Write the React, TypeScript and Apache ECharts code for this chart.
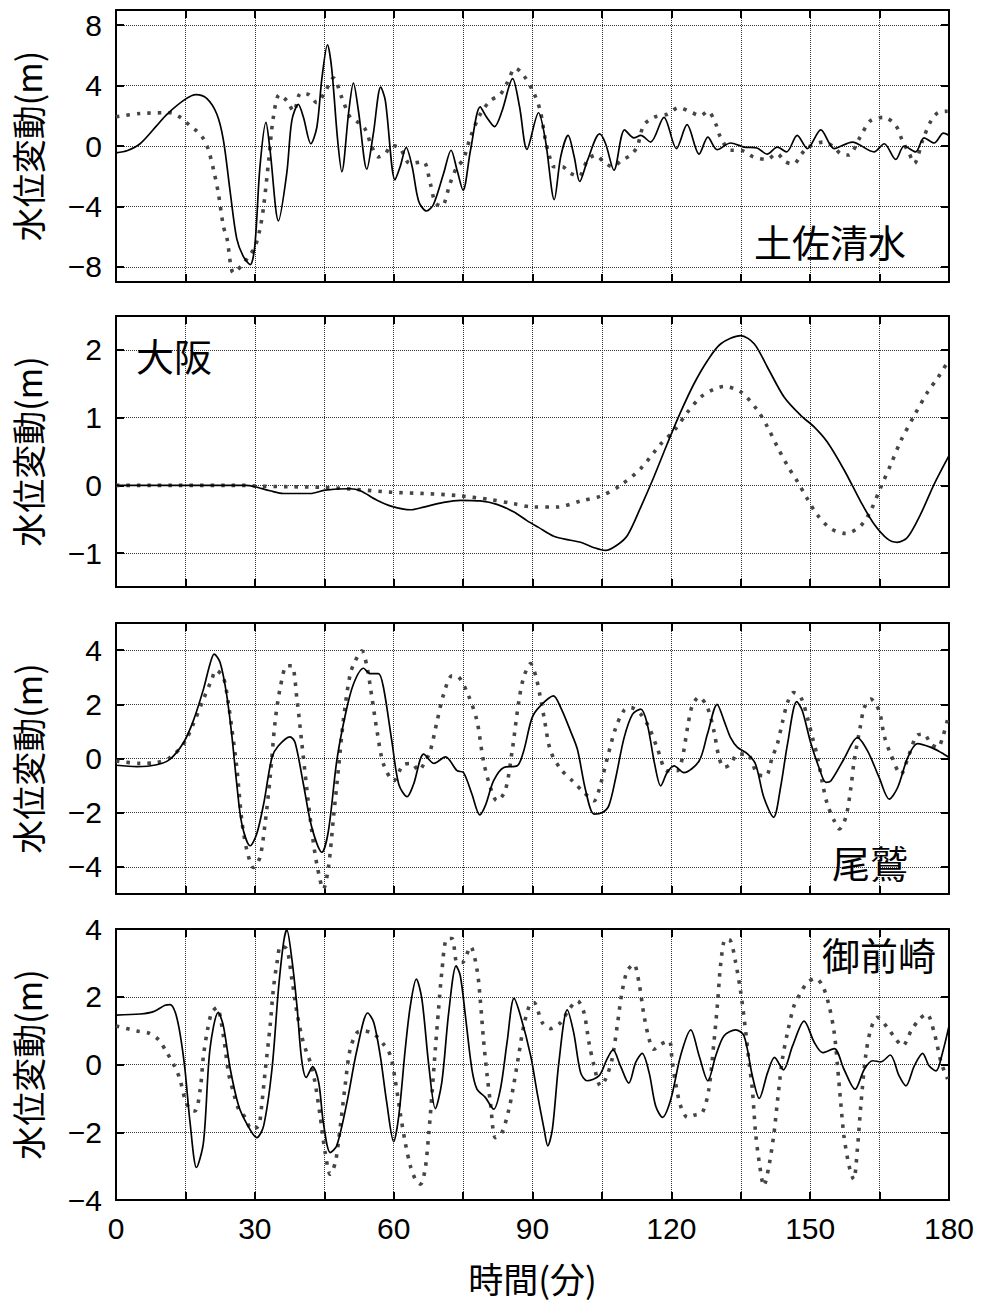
import React, { useEffect, useRef } from 'react';
import * as echarts from 'echarts';

// ---------- texts ----------
const stationNames = ['土佐清水', '大阪', '尾鷲', '御前崎'];
const yTitle = '水位変動(m)';
const xTitle = '時間(分)';

// ---------- axes ----------
const xTickLabels = [0, 30, 60, 90, 120, 150, 180];
const yRange1 = [-9, 9];
const yRange2 = [-1.5, 2.5];
const yRange3 = [-5, 5];
const yRange4 = [-4, 4];
const yTicks1 = [-8, -4, 0, 4, 8];
const yTicks2 = [-1, 0, 1, 2];
const yTicks3 = [-4, -2, 0, 2, 4];
const yTicks4 = [-4, -2, 0, 2, 4];

// ---------- data: [minutes, metres] ----------
const tosaSolid = [
  [0, -0.46], [2.5, -0.3], [5.2, 0.15], [8.8, 1.35], [11, 2.1], [15, 3.1], [17.3, 3.4], [19.6, 3.15],
  [21.8, 2.1], [23.2, 0.4], [24.7, -3.1], [26.1, -6.15], [27.5, -7.3], [29, -7.85], [30, -6.6],
  [31.1, -1.4], [32.4, 1.56], [33.3, -0.3], [35.1, -4.95], [36.9, -1.8], [38, 1.7], [39.4, 2.76],
  [40.5, 1.9], [42.1, 0.15], [43.4, 1.24], [44.5, 4.5], [45.7, 6.7], [46.6, 5.15], [47.9, 0.37],
  [48.8, -1.7], [50.3, 2.3], [51.3, 4.17], [52.4, 2.3], [54.2, -1.54], [55.6, 0.8], [57.2, 3.9],
  [58.2, 3.0], [60.3, -2.24], [61.4, -1.37], [62.7, -0.1], [64, -1.37], [65.4, -3.65], [67.1, -4.3],
  [68.6, -3.87], [70.8, -1.8], [72.4, -0.28], [73.7, -1.59], [75, -2.93], [76.6, -0.28], [78.7, 2.59],
  [80.1, 1.9], [81.8, 1.28], [83.4, 2.3], [85.7, 4.46], [87.2, 2.6], [88.8, -0.22], [91.3, 2.2],
  [92.8, 0.37], [94.7, -3.55], [96.1, -0.7], [97.7, 0.7], [99, -0.7], [100.2, -2.35], [101.9, -0.93],
  [104.5, 0.8], [105.8, 0.15], [107.6, -1.6], [109.9, 1.07], [111.9, 0.54], [113.4, 0.7], [115.5, 0.26],
  [118.4, 1.9], [121.1, -0.17], [123.4, 1.41], [126, -0.54], [127.9, 0.59], [129.9, -0.24], [132.8, 0.2],
  [135.7, -0.07], [138.5, -0.13], [140.7, -0.54], [142.9, -0.07], [144.9, -0.39], [147.2, 0.7],
  [149.4, -0.17], [152.3, 1.07], [155.2, -0.17], [159.1, 0.26], [163.8, -0.39], [166, 0.15], [168.5, -0.89],
  [170.3, 0], [172.8, -0.39], [174.6, 0.54], [176.8, 0.2], [178.8, 0.85], [180, 0.7],
];
const tosaDotted = [
  [0, 1.93], [5.2, 2.15], [11.7, 2.2], [13.9, 1.9], [16, 1.35], [17.4, 1.0], [18.9, 0.48], [20, -0.28],
  [21.1, -1.6], [22.1, -3.1], [23.2, -5.3], [24, -6.15], [25.4, -8.4], [27.2, -7.9], [28.6, -7.35],
  [30, -6.7], [31.1, -5.5], [31.9, -4.0], [33, -0.93], [34, 1.9], [35.3, 3.4], [36.9, 3.0], [38.4, 2.3],
  [39.9, 3.5], [41.6, 3.4], [43.4, 2.87], [45.2, 3.6], [47, 4.5], [48.8, 3.2], [50.6, 1.9], [52, 1.63],
  [53.8, 1.13], [55.3, -0.07], [56.7, -0.72], [58.2, -0.5], [59.6, 0.04], [61.4, -0.17], [63.5, -1.15],
  [66.4, -1.04], [67.9, -2.46], [69, -3.76], [70.4, -3.98], [72.2, -2.46], [73.7, -1.37], [75, -0.93],
  [76.6, 0.59], [78.7, 2.1], [80.9, 3.0], [83, 3.4], [84.5, 4.17], [86.3, 5.15], [88.1, 4.67], [90.3, 3.5],
  [91.7, 2.3], [92.8, 0.37], [93.7, -0.72], [94.6, -1.37], [96.4, -1.37], [98.2, -1.8], [100, -2.0],
  [101.9, -0.93], [103.6, -0.6], [105.4, -1.04], [107.2, -1.37], [109.4, -0.93], [111.2, -0.6],
  [112.6, -0.07], [114, 1.35], [116.2, 1.9], [119.1, 2.1], [121.6, 2.54], [124.5, 2.2], [126.3, 2.0],
  [127.9, 2.3], [129.6, 1.46], [130.6, 0.59], [132.8, -0.28], [134.9, -0.28], [137.7, -0.72],
  [140.6, -0.89], [142.8, -0.5], [144.6, -1.04], [146.4, -1.2], [148.2, -0.5], [149.6, -0.07],
  [152.9, 0.26], [155.2, -0.07], [156.5, -0.5], [158.3, -0.6], [160.8, 0.59], [163, 1.67], [165.9, 1.9],
  [168.5, 1.35], [169.9, 0.37], [171.4, -0.5], [172.5, -1.15], [174.3, 0.37], [176.1, 1.67], [177.6, 2.2],
  [179.7, 2.3],
];

const osakaSolid = [
  [0, 0], [10, 0], [20, 0], [28, 0], [30, -0.02], [33.3, -0.08], [36.2, -0.12], [42, -0.12], [45.2, -0.07],
  [50.6, -0.05], [52.8, -0.08], [56.4, -0.22], [59.6, -0.31], [63.6, -0.36], [66.5, -0.32], [70.8, -0.25],
  [74.4, -0.22], [78.7, -0.23], [82.3, -0.28], [85.9, -0.39], [88.8, -0.52], [91.3, -0.62], [94.6, -0.75],
  [98.2, -0.81], [100.4, -0.84], [103.3, -0.92], [105.8, -0.96], [108.3, -0.88], [110.5, -0.74],
  [113.4, -0.32], [116.2, 0.12], [119.1, 0.61], [122, 1.08], [124.9, 1.5], [127.8, 1.84], [130.7, 2.09],
  [135, 2.21], [137.9, 2.09], [140.8, 1.74], [144.4, 1.3], [148, 1.03], [150.9, 0.86], [153.7, 0.64],
  [157.4, 0.22], [161, -0.25], [163.8, -0.57], [166.7, -0.79], [168.8, -0.84], [171, -0.77], [173.9, -0.42],
  [176.8, 0.02], [180, 0.44],
];
const osakaDotted = [
  [0, 0], [28, 0], [30.4, -0.01], [37.6, -0.02], [44.8, -0.03], [52, -0.06], [59.3, -0.1], [66.5, -0.12],
  [73.7, -0.15], [80.9, -0.21], [85.9, -0.27], [90.3, -0.32], [95.3, -0.32], [100.4, -0.23], [104.7, -0.16],
  [109, 0], [113.4, 0.25], [117.7, 0.61], [120.6, 0.81], [123.5, 1.08], [126.3, 1.3], [129.2, 1.42],
  [131.4, 1.46], [135, 1.38], [138.6, 1.11], [140.8, 0.86], [142.9, 0.57], [145.1, 0.29], [147.3, 0.05],
  [149.4, -0.2], [151.6, -0.44], [154.5, -0.64], [157.7, -0.71], [161, -0.59], [163.1, -0.37],
  [165.3, -0.02], [167.5, 0.32], [169.6, 0.66], [172.5, 1.03], [175.4, 1.38], [177.6, 1.59], [179.7, 1.82],
];

const owaseSolid = [
  [0, -0.25], [4.5, -0.3], [8.8, -0.23], [11.7, -0.02], [14.6, 0.59], [16.7, 1.39], [18.9, 2.56],
  [20.3, 3.48], [21.2, 3.85], [22.5, 3.54], [23.9, 2.37], [25, 0.9], [26.1, -0.95], [27.2, -2.42],
  [29, -3.22], [30.4, -2.79], [31.9, -1.68], [33.7, 0.04], [35.1, 0.47], [37.6, 0.8], [38.7, 0.59],
  [40.5, -0.95], [42.3, -2.54], [44.5, -3.46], [45.9, -2.67], [47.7, -0.09], [49.5, 1.57], [51.3, 2.74],
  [53.5, 3.33], [54.9, 3.13], [56.7, 3.13], [57.8, 2.62], [59.6, 0.65], [61.1, -0.95], [62.9, -1.41],
  [64.3, -0.95], [66.5, 0.16], [68.7, -0.18], [71.2, 0.06], [73.7, -0.45], [75.1, -0.52], [76.9, -1.31],
  [78.6, -2.08], [79.8, -1.74], [81.6, -0.82], [83.8, -0.33], [86.7, -0.27], [88.1, 0.28], [89.9, 1.5],
  [91.7, 1.94], [94.5, 2.31], [96.1, 1.88], [98.2, 1.02], [99.7, 0.34], [101.5, -1.19], [103.3, -2.05],
  [105.1, -1.99], [106.5, -1.74], [108, -0.7], [109.8, 0.77], [111.6, 1.63], [113.4, 1.82], [114.8, 1.27],
  [116.4, -0.21], [117.7, -1.01], [119.1, -0.52], [120.6, -0.27], [122.7, -0.52], [126, -0.09],
  [127.8, 0.9], [129.9, 2.0], [131.4, 1.39], [132.8, 0.77], [134.3, 0.41], [136.4, 0.18], [138.2, -0.21],
  [140, -1.44], [142.1, -2.17], [143.6, -1.07], [145.1, 0.53], [147.1, 2.1], [148.3, 1.76], [150.1, 0.59],
  [151.9, -0.33], [153.4, -0.88], [154.5, -0.82], [157.3, -0.02], [160.2, 0.77], [162.4, 0.28],
  [164.9, -0.7], [167.1, -1.5], [168.9, -1.07], [171.1, 0.04], [173.2, 0.55], [176.1, 0.41], [178.3, 0.22],
  [180, 0.04],
];
const owaseDotted = [
  [0, -0.09], [5.2, -0.18], [8.8, -0.15], [11.7, 0.04], [14.6, 0.53], [16.7, 1.27], [18.9, 2.19],
  [20.7, 2.92], [21.6, 3.26], [23.2, 2.99], [24.3, 2.0], [25, 1.14], [26.1, -0.33], [27.2, -2.3],
  [28.3, -3.4], [29.7, -4.02], [31.1, -3.65], [32.2, -2.42], [33.3, -0.7], [34.4, 1.39], [35.5, 2.62],
  [36.9, 3.42], [38, 3.42], [39.1, 2.19], [40.1, 0.65], [41.2, -1.07], [42.3, -2.67], [43.4, -3.9],
  [44.8, -4.82], [45.9, -4.02], [47, -2.17], [48.1, -0.33], [49.2, 1.51], [50.6, 3.11], [51.7, 3.6],
  [53.1, 3.97], [54.2, 3.42], [55.3, 2.25], [56.4, 1.02], [57.8, -0.21], [60, -0.82], [62.1, -0.23],
  [63.9, -0.18], [65.4, -0.45], [66.5, -0.21], [67.9, 0.28], [69.4, 1.39], [70.8, 2.37], [72.6, 3.05],
  [74, 3.01], [76.2, 2.31], [78, 1.39], [79.4, -0.09], [80.9, -1.07], [82.3, -1.56], [84.1, -1.19],
  [85.6, 0.28], [87, 2.06], [88.1, 3.0], [89.6, 3.5], [90.7, 3.05], [91.7, 2.25], [92.5, 1.51], [93.9, 0.28],
  [96.1, -0.39], [98.6, -0.82], [101.1, -1.25], [103.3, -1.56], [104.7, -0.95], [106.2, 0.04], [108, 1.14],
  [109.8, 1.78], [111.2, 1.88], [113.4, 1.63], [115.2, 1.14], [116.9, 0.41], [119.1, -0.45], [121.3, -0.45],
  [122.4, 0.04], [123.5, 1.14], [124.5, 1.94], [126, 2.27], [127.8, 1.88], [129.2, 1.02], [130.3, 0.04],
  [131.4, -0.33], [132.8, -0.21], [134.3, 0.16], [136.4, 0.16], [138.6, -0.58], [140.4, -0.64],
  [141.8, 0.04], [142.9, 0.53], [144, 1.33], [145.1, 2.06], [146.4, 2.43], [148, 2.25], [149.4, 1.51],
  [150.5, 0.77], [151.6, 0.04], [152.7, -0.95], [153.7, -1.68], [155.2, -2.3], [156.3, -2.6],
  [157.7, -2.17], [158.8, -1.07], [159.5, -0.09], [160.8, 1.14], [161.7, 1.88], [163.1, 2.19],
  [164.9, 1.76], [166, 0.84], [167.4, 0.16], [169.6, -0.58], [171.4, 0.16], [173.2, 0.87], [174.6, 0.9],
  [176.1, 0.53], [177.6, 0.41], [178.6, 0.77], [179.7, 1.45],
];

const omaezakiSolid = [
  [0, 1.46], [5.2, 1.49], [8.1, 1.56], [10.6, 1.75], [11.7, 1.77], [12.8, 1.54], [13.8, 0.94],
  [14.9, -0.14], [16, -1.71], [17.4, -3.04], [18.9, -2.3], [20.3, 0.45], [22.1, 1.54], [23.2, 1.14],
  [24.7, -0.14], [26.5, -1.22], [28.3, -1.76], [30.4, -2.16], [31.9, -1.81], [33.7, -0.14], [35.1, 2.22],
  [36.2, 3.6], [36.9, 3.98], [38, 3.11], [39.1, 1.73], [40.1, 0.16], [41.1, -0.38], [42.5, -0.06],
  [43.8, -0.53], [44.8, -1.71], [46.3, -2.6], [47.7, -2.4], [49.9, -1.12], [52.1, 0.45], [54.4, 1.52],
  [55.7, 1.24], [57.1, 0.26], [58.5, -1.12], [60, -2.28], [61.1, -1.52], [62.5, 0.45], [63.6, 1.73],
  [64.9, 2.52], [66.1, 1.93], [67.6, -0.04], [69, -1.3], [70.4, -0.53], [71.9, 1.54], [73.5, 2.91],
  [74.4, 2.62], [75.5, 1.44], [76.9, -0.14], [78, -0.73], [79.8, -0.97], [81.6, -1.32], [83.1, -0.7],
  [84.5, 0.65], [86, 1.95], [87.4, 1.44], [89.6, 0.26], [91, -0.83], [92.5, -1.91], [93.3, -2.4],
  [94.3, -1.91], [95.7, 0.06], [97.5, 1.61], [98.9, 0.94], [100.4, -0.24], [101.8, -0.48], [104.4, -0.33],
  [106.1, 0.16], [107.4, 0.43], [109, -0.04], [110.8, -0.55], [112.3, 0.06], [113.7, 0.33], [115.2, -0.24],
  [116.6, -1.22], [118.1, -1.56], [119.9, -1.02], [122, 0.26], [124.2, 1.02], [126, 0.26], [127.9, -0.48],
  [129.6, 0.26], [131.4, 0.85], [133.9, 1.02], [135.7, 0.85], [137.5, -0.33], [139, -1.0], [140.8, -0.24],
  [142.3, 0.21], [144.2, -0.16], [146.2, 0.55], [148.7, 1.28], [150.9, 0.65], [152.7, 0.35], [155.2, 0.47],
  [157.3, -0.14], [159.7, -0.73], [161.7, -0.14], [163.5, 0.11], [165.3, 0.08], [167.3, 0.28],
  [169.2, -0.33], [170.7, -0.63], [172.5, -0.04], [174.3, 0.33], [175.7, -0.04], [177.2, -0.19],
  [178.6, 0.35], [180, 1.14],
];
const omaezakiDotted = [
  [0, 1.14], [4.5, 0.99], [7, 0.93], [9.2, 0.73], [11, 0.35], [12.8, -0.09], [13.8, -0.43], [14.9, -1.02],
  [16, -1.32], [17.1, -1.37], [18.2, -0.73], [18.9, 0.26], [19.8, 1.04], [20.7, 1.54], [21.8, 1.68],
  [23.2, 0.85], [24.3, -0.24], [25.4, -0.83], [26.5, -1.32], [27.9, -1.56], [29.3, -1.91], [30.8, -1.81],
  [31.5, -1.17], [32.2, -0.24], [33.3, 1.14], [34, 2.22], [34.8, 3.01], [35.6, 3.5], [36.9, 3.41],
  [38, 2.52], [39.1, 1.54], [40.1, 0.85], [41.2, 0.35], [42, 0.06], [43, -0.53], [44.1, -1.51],
  [45.2, -2.6], [46.3, -3.24], [47.4, -2.89], [48.4, -1.91], [49.5, -0.63], [50.6, 0.45], [52.1, 0.94],
  [53.5, 0.99], [55.7, 0.9], [57.8, 0.6], [59.3, 0.26], [60.3, -0.43], [61.4, -1.42], [62.5, -2.3],
  [63.6, -2.99], [64.7, -3.39], [65.8, -3.53], [66.8, -3.09], [67.6, -2.01], [68.3, -0.83], [69, 0.45],
  [69.7, 1.63], [70.4, 2.72], [71.4, 3.7], [72.6, 3.72], [73.7, 3.01], [74.8, 3.01], [76.6, 3.48],
  [78, 2.81], [78.7, 1.93], [79.4, 0.75], [80.2, -0.33], [80.9, -1.12], [82, -2.16], [83.4, -2.01],
  [84.9, -1.32], [85.9, -0.63], [87, 0.26], [88.1, 1.14], [89.5, 1.8], [90.3, 1.83], [92.1, 1.24],
  [93.9, 1.06], [96.1, 1.24], [97.9, 1.63], [99.7, 1.88], [101.1, 1.54], [102.2, 0.65], [103.3, -0.04],
  [104.7, -0.63], [105.8, -0.43], [107.2, 0.16], [108.3, 1.14], [109.4, 2.18], [110.5, 2.77], [111.9, 2.96],
  [113, 2.42], [114.1, 1.44], [115.2, 0.75], [116.2, 0.45], [117.7, 0.6], [119.5, 0.7], [120.2, 0.06],
  [120.9, -0.53], [122, -1.22], [123.5, -1.56], [124.9, -1.5], [126.7, -1.42], [128.1, -0.73],
  [129.2, 0.65], [130, 1.83], [130.7, 3.01], [131.7, 3.7], [132.8, 3.65], [133.9, 3.01], [135, 2.13],
  [136.1, 0.94], [136.8, 0.06], [137.5, -0.73], [138.2, -2.01], [139, -2.89], [140, -3.58], [141.1, -2.99],
  [142.2, -2.01], [142.9, -1.12], [144, 0.16], [145.1, 0.94], [146.5, 1.73], [148, 2.13], [149.4, 2.42],
  [151.2, 2.54], [152.7, 2.32], [154.1, 1.73], [155.2, 0.94], [155.9, -0.04], [156.6, -1.12],
  [157.3, -2.11], [158.4, -2.99], [159.4, -3.39], [160.2, -2.5], [161, -1.12], [162, 0.26], [163.1, 1.04],
  [164.5, 1.39], [166.7, 1.09], [168.5, 0.75], [170, 0.55], [171.8, 0.99], [173.6, 1.34], [175.2, 1.49],
  [176.8, 0.94], [178.3, 0.06], [179.7, -0.43],
];

// ---------- layout / style ----------
const GRID_LEFT = 116;
const GRID_RIGHT = 33;
const GRID_TOPS = [10, 316, 623, 929];
const GRID_HEIGHTS = [272, 271, 271, 271];
const NAME_POS = [
  [830, 240],
  [174, 354],
  [870, 861],
  [879, 953],
];
const LATIN = '"Liberation Sans", Arial, "Noto Sans CJK JP", sans-serif';
const CJK = '"Noto Sans CJK JP", "Noto Sans CJK SC", sans-serif';

const minus = (v: number) => String(v).replace('-', '\u2212');

export default function App() {
  const ref = useRef<HTMLDivElement>(null);

  useEffect(() => {
    if (!ref.current) return;
    const chart = echarts.init(ref.current, null, { renderer: 'svg' });

    const ranges = [yRange1, yRange2, yRange3, yRange4];
    const ticks = [yTicks1, yTicks2, yTicks3, yTicks4];
    const solids = [tosaSolid, osakaSolid, owaseSolid, omaezakiSolid];
    const dotteds = [tosaDotted, osakaDotted, owaseDotted, omaezakiDotted];

    const axisLine = { show: true, onZero: false, lineStyle: { color: '#000', width: 2 } };
    const splitLine = { show: true, lineStyle: { color: '#333', width: 1, type: [1, 1] } };
    const tick = { show: true, inside: true, length: 8, lineStyle: { color: '#000', width: 2 } };

    const grid: any[] = [];
    const xAxis: any[] = [];
    const yAxis: any[] = [];
    const series: any[] = [];

    for (let i = 0; i < 4; i++) {
      grid.push({
        left: GRID_LEFT,
        right: GRID_RIGHT,
        top: GRID_TOPS[i],
        height: GRID_HEIGHTS[i],
        outerBoundsMode: 'none',
        containLabel: false,
      });
    }
    // bottom x axes
    for (let i = 0; i < 4; i++) {
      const last = i === 3;
      xAxis.push({
        type: 'value',
        gridIndex: i,
        position: 'bottom',
        min: 0,
        max: 180,
        interval: 15,
        axisLine,
        axisTick: tick,
        splitLine,
        axisLabel: {
          show: last,
          customValues: xTickLabels,
          margin: 13,
          color: '#000',
          fontSize: 30,
          fontFamily: LATIN,
        },
        name: last ? xTitle : '',
        nameLocation: 'middle',
        nameGap: 60,
        nameTextStyle: { color: '#000', fontSize: 35, fontFamily: CJK },
      });
    }
    // top x axes (frame)
    for (let i = 0; i < 4; i++) {
      xAxis.push({
        type: 'value',
        gridIndex: i,
        position: 'top',
        min: 0,
        max: 180,
        interval: 15,
        axisLine,
        axisTick: tick,
        splitLine: { show: false },
        axisLabel: { show: false },
      });
    }
    // left y axes
    for (let i = 0; i < 4; i++) {
      yAxis.push({
        type: 'value',
        gridIndex: i,
        position: 'left',
        min: ranges[i][0],
        max: ranges[i][1],
        axisLine,
        axisTick: { ...tick, customValues: ticks[i] },
        splitLine,
        axisLabel: {
          customValues: ticks[i],
          formatter: minus,
          margin: 14,
          color: '#000',
          fontSize: 30,
          fontFamily: LATIN,
        },
        name: yTitle,
        nameLocation: 'middle',
        nameGap: 72,
        nameTextStyle: { color: '#000', fontSize: 34, fontFamily: CJK },
      });
    }
    // right y axes (frame)
    for (let i = 0; i < 4; i++) {
      yAxis.push({
        type: 'value',
        gridIndex: i,
        position: 'right',
        min: ranges[i][0],
        max: ranges[i][1],
        axisLine,
        axisTick: { ...tick, customValues: ticks[i] },
        splitLine: { show: false },
        axisLabel: { show: false, customValues: ticks[i] },
      });
    }

    for (let i = 0; i < 4; i++) {
      series.push({
        type: 'line',
        name: 'dotted' + i,
        xAxisIndex: i,
        yAxisIndex: i,
        data: dotteds[i],
        showSymbol: false,
        symbol: 'none',
        smooth: 0.3,
        lineStyle: { color: '#454545', width: 3.6, type: [3.5, 7], cap: 'butt' },
        z: 3,
      });
      series.push({
        type: 'line',
        name: 'solid' + i,
        xAxisIndex: i,
        yAxisIndex: i,
        data: solids[i],
        showSymbol: false,
        symbol: 'none',
        smooth: 0.3,
        lineStyle: { color: '#000', width: 1.7, type: 'solid' },
        z: 4,
      });
    }

    const graphic = stationNames.map((n, i) => ({
      type: 'text',
      x: NAME_POS[i][0],
      y: NAME_POS[i][1],
      z: 10,
      style: {
        text: n,
        fill: '#000',
        font: `38px ${CJK}`,
        align: 'center',
        verticalAlign: 'middle',
      },
    }));

    chart.setOption({
      animation: false,
      backgroundColor: '#fff',
      grid,
      xAxis,
      yAxis,
      series,
      graphic,
    });

    return () => chart.dispose();
  }, []);

  return (
    <div
      ref={ref}
      style={{ position: 'absolute', left: 0, top: 0, width: 982, height: 1304 }}
    />
  );
}
